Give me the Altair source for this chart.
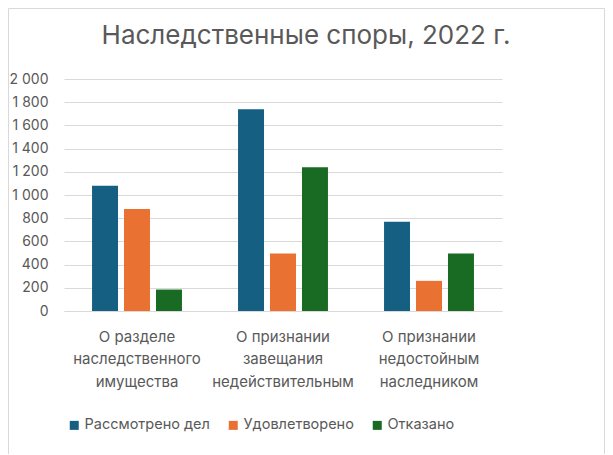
import altair as alt
import pandas as pd

title_text = "Наследственные споры, 2022 г."
categories = [
    "О разделе\nнаследственного\nимущества",
    "О признании\nзавещания\nнедействительным",
    "О признании\nнедостойным\nнаследником",
]
series = ["Рассмотрено дел", "Удовлетворено", "Отказано"]
considered = [1080, 1740, 770]
satisfied = [880, 495, 260]
refused = [185, 1240, 495]
colors = ["#156082", "#E97132", "#196B24"]
y_ticks = [0, 200, 400, 600, 800, 1000, 1200, 1400, 1600, 1800, 2000]

rows = []
for s, vals in zip(series, [considered, satisfied, refused]):
    for c, v in zip(categories, vals):
        rows.append({"category": c, "series": s, "value": v})
df = pd.DataFrame(rows)

FONT = "Inter"
GREY = "#595959"

bars = alt.Chart(df).mark_bar().encode(
    x=alt.X(
        "category:N",
        sort=categories,
        scale=alt.Scale(paddingInner=0.384, paddingOuter=0.192),
        axis=alt.Axis(
            title=None,
            labelExpr="split(datum.label, '\\n')",
            labelAngle=0,
            labelFontSize=15,
            labelLineHeight=22.5,
            labelColor=GREY,
            labelPadding=18,
            labelBaseline="top",
            labelFont=FONT,
            domainColor="#d9d9d9",
            domainWidth=1,
            ticks=False,
        ),
    ),
    xOffset=alt.XOffset(
        "series:N", sort=series, scale=alt.Scale(paddingInner=0.1875, paddingOuter=0)
    ),
    y=alt.Y(
        "value:Q",
        scale=alt.Scale(domain=[0, 2000]),
        axis=alt.Axis(
            title=None,
            values=y_ticks,
            labelExpr="replace(format(datum.value, ','), ',', ' ')",
            labelFontSize=14,
            labelColor=GREY,
            labelFont=FONT,
            labelPadding=16,
            domain=False,
            ticks=False,
            gridColor="#d9d9d9",
            gridWidth=1,
        ),
    ),
    color=alt.Color(
        "series:N",
        sort=series,
        scale=alt.Scale(domain=series, range=colors),
        legend=alt.Legend(
            title=None,
            orient="none",
            direction="horizontal",
            legendX=3,
            legendY=339,
            symbolType="square",
            symbolSize=81,
            symbolStrokeWidth=0,
            labelFontSize=14.5,
            labelFont=FONT,
            labelColor=GREY,
            labelOffset=3,
            columnPadding=16,
        ),
    ),
)

frame = alt.Chart(pd.DataFrame({"a": [0]})).mark_rect(
    fill=None, stroke="#d9d9d9", strokeWidth=1
).encode(
    x=alt.value(-55.5), x2=alt.value(540.5), y=alt.value(-70.5), y2=alt.value(375.5)
)

title = alt.Chart(pd.DataFrame({"t": [title_text]})).mark_text(
    font=FONT, fontSize=26, color=GREY, align="center", baseline="alphabetic"
).encode(text="t:N", x=alt.value(242), y=alt.value(-35))

chart = (
    alt.layer(frame, bars, title)
    .properties(
        width=438,
        height=232,
        autosize=alt.AutoSizeParams(type="none"),
        padding={"left": 56, "top": 71, "right": 103, "bottom": 143},
    )
    .configure_view(stroke=None)
)

chart.save("out.html", embed_options={"renderer": "svg", "actions": False})
